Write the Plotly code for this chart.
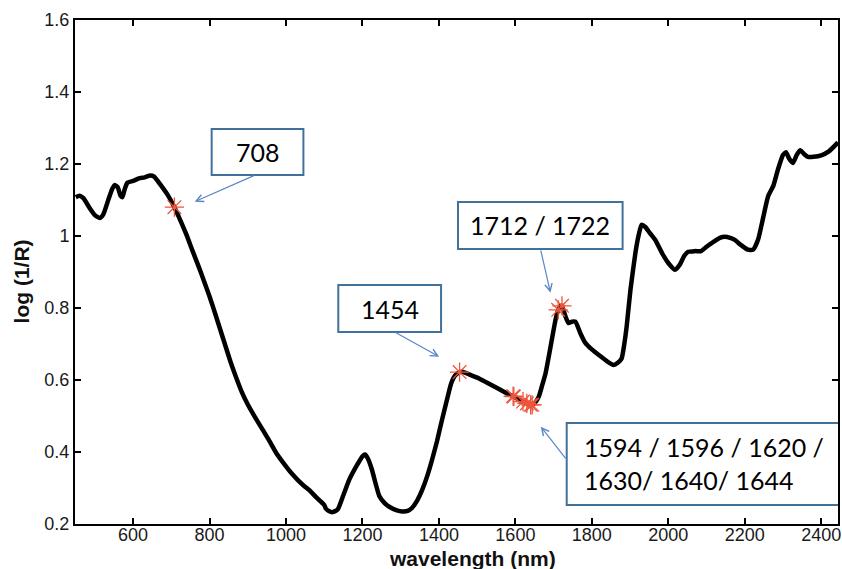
import plotly.graph_objects as go

# Spectrum
wavelength = [450, 460, 470, 485, 500, 513, 522, 535, 545, 552, 560, 567, 572, 578, 585, 600, 615, 630,
              645, 655, 670, 690, 708, 725, 739, 755, 774, 783, 800, 809, 825, 840, 855, 871, 885, 900,
              920, 940, 958, 974, 1000, 1015, 1031, 1046, 1061, 1080, 1100, 1104, 1112, 1122, 1135, 1150,
              1165, 1186, 1200, 1207, 1215, 1225, 1235, 1244, 1258, 1270, 1290, 1304, 1320, 1330, 1343,
              1356, 1370, 1382, 1395, 1408, 1421, 1432, 1442, 1454, 1462, 1480, 1504, 1530, 1557, 1580,
              1594, 1596, 1610, 1620, 1630, 1640, 1644, 1650, 1661, 1670, 1679, 1692, 1705, 1712, 1718,
              1722, 1730, 1739, 1748, 1757, 1770, 1783, 1800, 1820, 1840, 1857, 1868, 1878, 1885, 1891,
              1901, 1914, 1922, 1930, 1940, 1952, 1966, 1985, 2000, 2018, 2030, 2042, 2052, 2070, 2086,
              2100, 2120, 2135, 2148, 2162, 2174, 2190, 2208, 2222, 2235, 2248, 2261, 2275, 2287, 2300,
              2308, 2316, 2326, 2336, 2345, 2355, 2365, 2380, 2400, 2420, 2444]
log_1_over_r = [1.108, 1.112, 1.105, 1.08, 1.058, 1.05, 1.06, 1.1, 1.13, 1.142, 1.135, 1.112, 1.108, 1.13,
                1.148, 1.153, 1.16, 1.163, 1.168, 1.165, 1.145, 1.115, 1.08, 1.04, 1.005, 0.96, 0.908,
                0.882, 0.832, 0.803, 0.75, 0.7, 0.65, 0.603, 0.565, 0.532, 0.495, 0.46, 0.428, 0.398, 0.36,
                0.34, 0.322, 0.307, 0.294, 0.273, 0.253, 0.243, 0.236, 0.233, 0.24, 0.28, 0.322, 0.364,
                0.388, 0.393, 0.38, 0.35, 0.31, 0.278, 0.258, 0.248, 0.238, 0.235, 0.237, 0.245, 0.265,
                0.294, 0.335, 0.378, 0.43, 0.489, 0.545, 0.59, 0.612, 0.622, 0.623, 0.615, 0.605, 0.59,
                0.575, 0.562, 0.555, 0.554, 0.545, 0.54, 0.535, 0.531, 0.531, 0.535, 0.553, 0.585, 0.619,
                0.692, 0.767, 0.795, 0.805, 0.806, 0.78, 0.758, 0.762, 0.762, 0.73, 0.703, 0.685, 0.668,
                0.652, 0.642, 0.648, 0.66, 0.7, 0.747, 0.85, 0.953, 1.0, 1.031, 1.025, 1.008, 0.989, 0.95,
                0.925, 0.906, 0.92, 0.945, 0.956, 0.958, 0.958, 0.97, 0.985, 0.995, 0.998, 0.995, 0.989,
                0.975, 0.962, 0.962, 0.99, 1.05, 1.11, 1.14, 1.185, 1.225, 1.233, 1.215, 1.203, 1.225,
                1.238, 1.228, 1.22, 1.22, 1.224, 1.235, 1.26]

# Selected wavelengths (red stars)
selected_nm = [708, 1454, 1594, 1596, 1620, 1630, 1640, 1644, 1712, 1722]
selected_val = [1.08, 0.622, 0.555, 0.554, 0.54, 0.535, 0.531, 0.531, 0.795, 0.806]

x_ticks = [600, 800, 1000, 1200, 1400, 1600, 1800, 2000, 2200, 2400]
y_ticks = [0.2, 0.4, 0.6, 0.8, 1.0, 1.2, 1.4, 1.6]
y_tick_text = ["0.2", "0.4", "0.6", "0.8", "1", "1.2", "1.4", "1.6"]

AX_FONT = "Liberation Sans, Arial, Helvetica, sans-serif"
BOX_FONT = "Lato, Open Sans, sans-serif"
BOX_COLOR = "#41719c"
ARROW_COLOR = "#5b86c5"

fig = go.Figure()
fig.add_trace(go.Scatter(x=wavelength, y=log_1_over_r, mode="lines",
                         line=dict(color="black", width=4.5, shape="spline", smoothing=0.5),
                         showlegend=False))
fig.add_trace(go.Scatter(x=selected_nm, y=selected_val, mode="markers",
                         marker=dict(symbol="asterisk-open", size=16,
                                     line=dict(color="#c81020", width=1.3)),
                         showlegend=False))

# Label boxes (data coordinates)
boxes = [
    (805.5, 1045.5, 1.1694, 1.2972),
    (1136.8, 1405.6, 0.7333, 0.8639),
    (1449.9, 1880.5, 0.9639, 1.0944),
    (1734.3, 2600, 0.2528, 0.4806),
]
for x0, x1, y0, y1 in boxes:
    fig.add_shape(type="rect", xref="x", yref="y", x0=x0, x1=x1, y0=y0, y1=y1,
                  line=dict(color=BOX_COLOR, width=2), fillcolor="white", layer="above")

labels = [
    ("708", 925.5, 1.2333, "center"),
    ("1454", 1271.2, 0.7986, "center"),
    ("1712 / 1722", 1665.2, 1.0292, "center"),
    ("1594 / 1596 / 1620 /<br>1630/ 1640/ 1644", 1773.5, 0.3667, "left"),
]
for txt, x, y, anc in labels:
    fig.add_annotation(x=x, y=y, xref="x", yref="y", text=txt, showarrow=False,
                       xanchor=anc, yanchor="middle", align="left",
                       font=dict(family=BOX_FONT, size=25, color="black"))

# Arrows: head in data coords, tail offset in px
arrows = [
    (761.1, 1.0953, 60.7, -26.7),
    (1400.4, 0.6647, -45, -25),
    (1691.8, 0.8425, -10, -43.7),
    (1666.5, 0.4703, 26, 33.3),
]
for x, y, ax, ay in arrows:
    fig.add_annotation(x=x, y=y, xref="x", yref="y", ax=ax, ay=ay, text="",
                       showarrow=True, arrowhead=5, arrowsize=1.2, arrowwidth=1.2,
                       arrowcolor=ARROW_COLOR, standoff=0, startstandoff=0)

# Axis titles
fig.add_annotation(x=0.5216, y=-0.068, xref="paper", yref="paper", text="<b>wavelength (nm)</b>",
                   showarrow=False, xanchor="center", yanchor="middle",
                   font=dict(family=AX_FONT, size=21, color="#111"))
fig.add_annotation(x=-0.0697, y=0.481, xref="paper", yref="paper", text="<b>log (1/R)</b>",
                   showarrow=False, xanchor="center", yanchor="middle", textangle=-90,
                   font=dict(family=AX_FONT, size=21, color="#111"))

axis_common = dict(showline=True, linewidth=2, linecolor="black", mirror="ticks",
                   ticks="inside", ticklen=6, tickwidth=2, tickcolor="black",
                   showgrid=False, zeroline=False,
                   tickfont=dict(family=AX_FONT, size=18, color="#1a1a1a"))

fig.update_xaxes(range=[448, 2444], tickvals=x_ticks, ticklabelstandoff=-7, **axis_common)
fig.update_yaxes(range=[0.2, 1.6], tickvals=y_ticks, ticktext=y_tick_text, **axis_common)

fig.update_layout(width=842, height=569, margin=dict(l=75, r=2, t=20, b=45),
                  plot_bgcolor="white", paper_bgcolor="white", showlegend=False)

fig.write_html("out.html")
